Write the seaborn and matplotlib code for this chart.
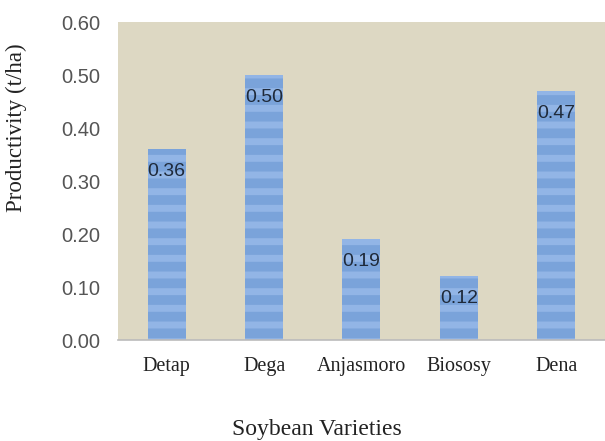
import matplotlib
matplotlib.use("Agg")
import matplotlib.pyplot as plt
import seaborn as sns
import pandas as pd

categories = ["Detap", "Dega", "Anjasmoro", "Biososy", "Dena"]
productivity = [0.36, 0.50, 0.19, 0.12, 0.47]
value_labels = ["0.36", "0.50", "0.19", "0.12", "0.47"]
y_ticks = [0.0, 0.1, 0.2, 0.3, 0.4, 0.5, 0.6]
y_tick_labels = ["0.00", "0.10", "0.20", "0.30", "0.40", "0.50", "0.60"]

df = pd.DataFrame({"Variety": categories, "Productivity": productivity})

sns.set_style("white")
plt.rcParams["hatch.linewidth"] = 5

fig = plt.figure(figsize=(6.05, 4.41), dpi=100)
ax = fig.add_axes([0.195, 0.229, 0.805, 0.721])
ax.set_facecolor("#DDD8C3")

sns.barplot(data=df, x="Variety", y="Productivity", color="#7AA3DA",
            width=0.39, saturation=1, ax=ax)

for p in ax.patches:
    p.set_edgecolor("#92B5E6")
    p.set_linewidth(0)
    p.set_hatch("-")

for i, (v, lab) in enumerate(zip(productivity, value_labels)):
    ax.text(i, v - 0.042, lab, ha="center", va="center", fontsize=14,
            color="#1F2A3A", family="Liberation Sans")

ax.set_ylim(0, 0.6)
ax.set_xlim(-0.5, 4.5)
ax.set_yticks(y_ticks)
ax.set_yticklabels(y_tick_labels, fontsize=14.5, color="#555555", family="Liberation Sans")
ax.set_xticks(range(len(categories)))
ax.set_xticklabels(categories, fontsize=14.5, color="#222222", family="Liberation Serif")
ax.tick_params(axis="both", length=0)
ax.tick_params(axis="y", pad=13)
ax.tick_params(axis="x", pad=12)

for s in ["top", "right", "left"]:
    ax.spines[s].set_visible(False)
ax.spines["bottom"].set_color("#BBBBBB")
ax.spines["bottom"].set_linewidth(1.2)

ax.set_xlabel("")
ax.set_ylabel("")
fig.text(0.524, 0.025, "Soybean Varieties", ha="center", va="center",
         fontsize=17, family="Liberation Serif", color="#222222")
fig.text(0.027, 0.71, "Productivity (t/ha)", ha="center", va="center",
         rotation=90, fontsize=16.5, family="Liberation Serif", color="#222222")

fig.savefig("out.png", dpi=100)
